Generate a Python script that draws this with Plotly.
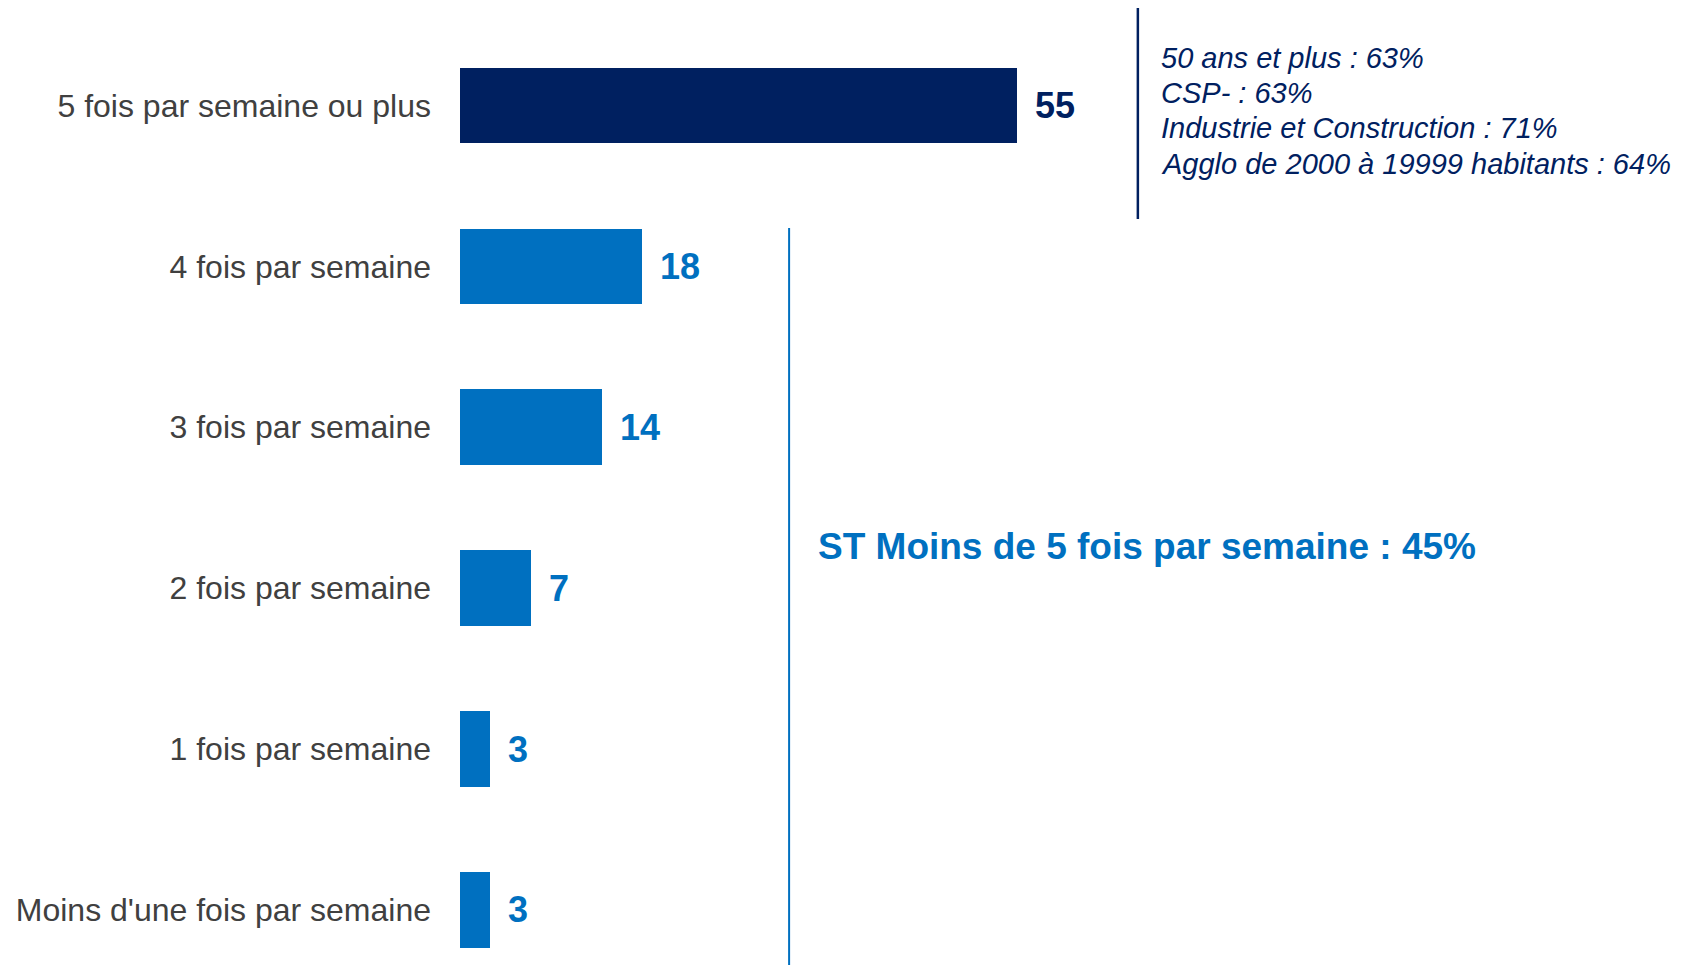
import plotly.graph_objects as go

# Fréquence (en %)
categories = [
    "5 fois par semaine ou plus",
    "4 fois par semaine",
    "3 fois par semaine",
    "2 fois par semaine",
    "1 fois par semaine",
    "Moins d'une fois par semaine",
]
values = [55, 18, 14, 7, 3, 3]

details = [
    "50 ans et plus : 63%",
    "CSP- : 63%",
    "Industrie et Construction : 71%",
    "Agglo de 2000 à 19999 habitants : 64%",
]
subtotal_label = "ST Moins de 5 fois par semaine : 45%"

NAVY = "#002060"
BLUE = "#0070C0"
FONT = "Arial, Liberation Sans, sans-serif"

bar_colors = [NAVY] + [BLUE] * (len(values) - 1)

fig = go.Figure()

fig.add_trace(go.Bar(
    x=values,
    y=categories,
    orientation="h",
    width=0.47,
    marker=dict(color=bar_colors, line=dict(width=0)),
    hoverinfo="skip",
))

# valeurs à droite des barres
for cat, val, col in zip(categories, values, bar_colors):
    fig.add_annotation(
        x=val, y=cat, xref="x", yref="y",
        text=f"<b>{val}</b>",
        showarrow=False, xanchor="left", yanchor="middle",
        xshift=16,
        font=dict(family=FONT, size=36, color=col),
    )

# encadré du haut (détails 5 fois ou plus)
detail_y = [0.9478, 0.9107, 0.8741, 0.8375]
for txt, yy in zip(details, detail_y):
    fig.add_annotation(
        x=0.569, y=yy, xref="paper", yref="paper",
        text=f"<i>{txt}</i>",
        showarrow=False, xanchor="left", yanchor="middle",
        font=dict(family=FONT, size=29, color=NAVY),
    )

fig.add_annotation(
    x=0.290, y=0.4378, xref="paper", yref="paper",
    text=f"<b>{subtotal_label}</b>",
    showarrow=False, xanchor="left", yanchor="middle",
    font=dict(family=FONT, size=37, color=BLUE),
)

# traits verticaux
fig.add_shape(type="line", xref="paper", yref="paper",
              x0=0.552, x1=0.552, y0=0.7795, y1=1.0,
              line=dict(color=NAVY, width=2.5))
fig.add_shape(type="line", xref="paper", yref="paper",
              x0=0.268, x1=0.268, y0=0.0, y1=0.7701,
              line=dict(color=BLUE, width=2))

fig.update_xaxes(
    range=[0, 121.2],
    visible=False,
    showgrid=False,
    zeroline=False,
)
fig.update_yaxes(
    categoryorder="array",
    categoryarray=categories,
    range=[5.342, -0.606],
    showgrid=False,
    zeroline=False,
    showline=False,
    ticks="",
    ticklabelstandoff=28,
    tickfont=dict(family=FONT, size=32, color="#404040"),
)

fig.update_layout(
    width=1680,
    height=957,
    margin=dict(l=452, r=0, t=0, b=0),
    plot_bgcolor="white",
    paper_bgcolor="white",
    showlegend=False,
    bargap=0,
)

fig.write_html("out.html")
